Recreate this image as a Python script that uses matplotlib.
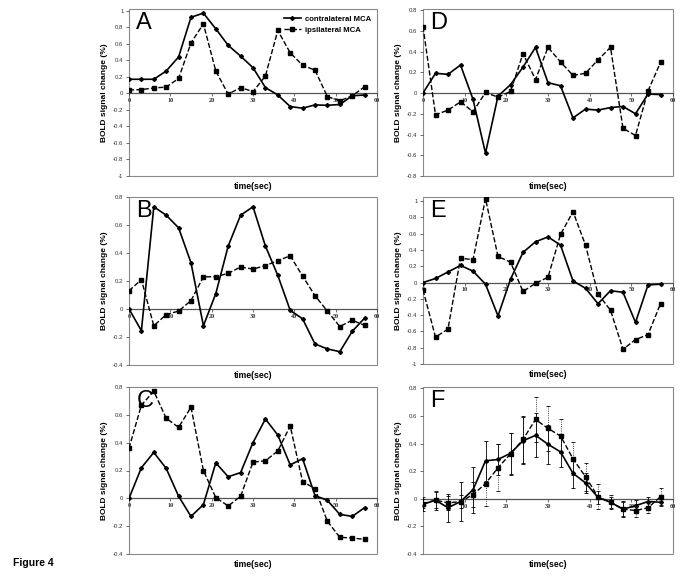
import matplotlib
matplotlib.use("Agg")
import matplotlib.pyplot as plt
from matplotlib.patches import Rectangle
from matplotlib.ticker import FuncFormatter, MultipleLocator
import numpy as np

plt.rcParams['font.family'] = ['Liberation Sans', 'DejaVu Sans']

time = [0, 3, 6, 9, 12, 15, 18, 21, 24, 27, 30, 33, 36, 39, 42, 45, 48, 51, 54, 57]

A_contra = [0.17, 0.17, 0.17, 0.27, 0.44, 0.92, 0.97, 0.78, 0.58, 0.45, 0.31, 0.07, -0.02, -0.16, -0.18, -0.14, -0.145, -0.135, -0.03, -0.02]
A_ipsi = [0.04, 0.045, 0.065, 0.075, 0.18, 0.61, 0.84, 0.27, -0.01, 0.07, 0.02, 0.21, 0.76, 0.49, 0.34, 0.28, -0.04, -0.09, -0.03, 0.08]

B_contra = [0.0, -0.155, 0.73, 0.67, 0.58, 0.33, -0.12, 0.11, 0.45, 0.67, 0.73, 0.45, 0.24, -0.01, -0.07, -0.25, -0.285, -0.305, -0.16, -0.065]
B_ipsi = [0.13, 0.21, -0.12, -0.04, -0.015, 0.06, 0.23, 0.23, 0.255, 0.30, 0.285, 0.31, 0.345, 0.38, 0.235, 0.095, -0.015, -0.125, -0.08, -0.117]

C_contra = [0.0, 0.22, 0.33, 0.215, 0.015, -0.13, -0.045, 0.255, 0.155, 0.185, 0.40, 0.57, 0.455, 0.24, 0.285, 0.02, -0.015, -0.115, -0.13, -0.067]
C_ipsi = [0.36, 0.67, 0.77, 0.575, 0.51, 0.655, 0.20, 0.005, -0.055, 0.015, 0.26, 0.27, 0.34, 0.52, 0.12, 0.07, -0.165, -0.28, -0.285, -0.295]

D_contra = [0.0, 0.19, 0.18, 0.27, -0.06, -0.58, -0.03, 0.08, 0.25, 0.44, 0.10, 0.07, -0.24, -0.155, -0.165, -0.14, -0.13, -0.20, -0.01, -0.015]
D_ipsi = [0.64, -0.21, -0.165, -0.085, -0.18, 0.005, -0.04, 0.015, 0.38, 0.13, 0.44, 0.30, 0.17, 0.19, 0.32, 0.44, -0.34, -0.41, 0.02, 0.295]

E_contra = [0.0, 0.05, 0.13, 0.21, 0.14, -0.02, -0.41, 0.04, 0.37, 0.50, 0.56, 0.46, 0.02, -0.07, -0.26, -0.10, -0.12, -0.49, -0.03, -0.02]
E_ipsi = [-0.09, -0.67, -0.57, 0.30, 0.28, 1.03, 0.32, 0.25, -0.11, -0.01, 0.065, 0.59, 0.87, 0.46, -0.14, -0.34, -0.82, -0.70, -0.64, -0.26]

F_contra = [-0.04, -0.01, -0.065, -0.02, 0.065, 0.275, 0.285, 0.33, 0.42, 0.46, 0.395, 0.34, 0.185, 0.115, 0.01, -0.025, -0.075, -0.05, -0.02, -0.025]
F_ipsi = [-0.035, -0.01, -0.03, -0.02, 0.03, 0.11, 0.225, 0.325, 0.43, 0.575, 0.51, 0.455, 0.29, 0.16, 0.015, -0.025, -0.075, -0.085, -0.065, 0.015]
F_contra_err = [0.05, 0.07, 0.10, 0.14, 0.165, 0.145, 0.115, 0.15, 0.17, 0.16, 0.14, 0.11, 0.11, 0.07, 0.05, 0.04, 0.05, 0.04, 0.03, 0.03]
F_ipsi_err = [0.03, 0.06, 0.05, 0.05, 0.09, 0.16, 0.17, 0.15, 0.17, 0.165, 0.165, 0.12, 0.12, 0.10, 0.09, 0.05, 0.06, 0.05, 0.04, 0.06]

xticks = [0, 10, 20, 30, 40, 50, 60]
series_labels = ["contralateral MCA", "ipsilateral MCA"]

W, H = 683, 577
fig = plt.figure(figsize=(W / 100, H / 100), dpi=100)


def px_axes(x0, y0, x1, y1):
    return fig.add_axes([x0 / W, 1 - y1 / H, (x1 - x0) / W, (y1 - y0) / H])


panels = [
    ("A", (129, 9, 377, 176), A_contra, A_ipsi, (-1, 1.02), 0.2, None, None),
    ("D", (423, 9, 673, 176), D_contra, D_ipsi, (-0.8, 0.81), 0.2, None, None),
    ("B", (129, 197, 377, 365), B_contra, B_ipsi, (-0.4, 0.8), 0.2, None, None),
    ("E", (423, 197, 673, 364), E_contra, E_ipsi, (-1, 1.05), 0.2, None, None),
    ("C", (129, 387, 377, 554), C_contra, C_ipsi, (-0.4, 0.8), 0.2, None, None),
    ("F", (423, 387, 673, 554), F_contra, F_ipsi, (-0.4, 0.81), 0.2, F_contra_err, F_ipsi_err),
]

fmt = FuncFormatter(lambda v, p: ("%g" % round(v, 2)))

for letter, box, contra, ipsi, ylim, ystep, cerr, ierr in panels:
    ax = px_axes(*box)
    ax.set_xlim(0, 60)
    ax.set_ylim(*ylim)
    if cerr is not None:
        ax.errorbar(time, contra, yerr=cerr, color='black', lw=1.2, marker='D',
                    ms=2.0, capsize=1.2, elinewidth=0.6, capthick=0.6,
                    label=series_labels[0], zorder=3)
        e2 = ax.errorbar(time, ipsi, yerr=ierr, color='black', lw=1.0, ls='--', marker='s',
                         ms=3.5, capsize=1.2, elinewidth=0.6, capthick=0.6,
                         label=series_labels[1], zorder=3)
        e2[2][0].set_linestyle(':')
    else:
        ax.plot(time, contra, color='black', lw=1.2, marker='D', ms=2.0,
                label=series_labels[0], zorder=3)
        ax.plot(time, ipsi, color='black', lw=1.0, ls='--', marker='s', ms=3.5,
                label=series_labels[1], zorder=3)
    for s in ['top', 'left', 'right']:
        ax.spines[s].set_visible(False)
    ax.spines['bottom'].set_position(('data', 0))
    ax.spines['bottom'].set_color('#555555')
    ax.spines['bottom'].set_linewidth(0.9)
    ax.add_patch(Rectangle((0, 0), 1, 1, transform=ax.transAxes, fill=False,
                           edgecolor='#8a8a8a', lw=0.8, clip_on=False, zorder=0))
    ax.set_xticks(xticks)
    ax.xaxis.set_major_formatter(FuncFormatter(lambda v, p: "%d" % v))
    ax.yaxis.set_major_locator(MultipleLocator(ystep))
    ax.yaxis.set_major_formatter(fmt)
    ax.tick_params(axis='x', direction='out', length=2, width=0.5, pad=1.5,
                   labelsize=4.5, colors='#333333')
    for lbl in ax.get_xticklabels():
        lbl.set_family('Liberation Serif')
        lbl.set_fontweight('bold')
    ax.tick_params(axis='y', direction='out', length=2, width=0.5, pad=2,
                   labelsize=4.3, colors='#333333')
    ax.set_ylabel("BOLD signal change (%)", fontsize=6, fontweight='bold')
    ax.yaxis.set_label_coords(-0.085, 0.5)
    ax.set_xlabel("time(sec)", fontsize=6.3, fontweight='bold')
    ax.xaxis.set_label_coords(0.5, -0.035)
    ax.xaxis.label.set_va('top')
    ax.text(0.03, 0.985, letter, transform=ax.transAxes, fontsize=17,
            va='top', ha='left')
    if letter == "A":
        ax.legend(loc='upper right', frameon=False,
                  prop={'weight': 'bold', 'size': 5.6}, handlelength=2.2,
                  borderaxespad=0.4, labelspacing=0.5, handletextpad=0.5)

fig.text(13 / W, 1 - 563 / H, "Figure 4", fontsize=7.5, fontweight='bold',
         va='center', ha='left')

fig.savefig("out.png", dpi=100)
